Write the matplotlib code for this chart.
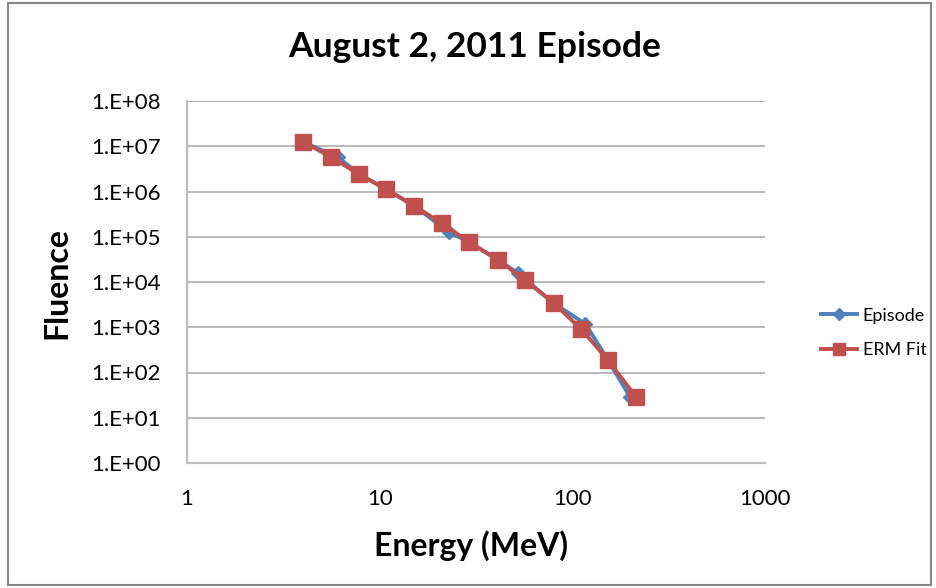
import matplotlib
matplotlib.use("Agg")
import matplotlib.pyplot as plt
from matplotlib.patches import Rectangle
from matplotlib.ticker import FixedLocator, NullLocator

# Data
episode_energy = [4.0, 6.1, 7.8, 10.8, 15.1, 22.9, 29.0, 41.0, 52.2, 80.0, 117.0, 153.0, 199.0]
episode_fluence = [1.24e7, 5.7e6, 2.4e6, 1.13e6, 4.8e5, 1.27e5, 7.7e4, 3.1e4, 1.58e4, 3.4e3, 1.18e3, 189.0, 29.0]

erm_energy = [4.0, 5.6, 7.8, 10.8, 15.1, 21.0, 29.0, 41.0, 57.0, 80.0, 111.0, 153.0, 214.0]
erm_fluence = [1.24e7, 5.8e6, 2.4e6, 1.13e6, 4.8e5, 2.0e5, 7.7e4, 3.1e4, 1.1e4, 3.4e3, 915.0, 189.0, 28.8]

x_ticks = [1, 10, 100, 1000]
x_tick_labels = ["1", "10", "100", "1000"]
y_ticks = [1e0, 1e1, 1e2, 1e3, 1e4, 1e5, 1e6, 1e7, 1e8]
y_tick_labels = ["1.E+00", "1.E+01", "1.E+02", "1.E+03", "1.E+04", "1.E+05", "1.E+06", "1.E+07", "1.E+08"]

title = "August 2, 2011 Episode"
x_label = "Energy (MeV)"
y_label = "Fluence"

plt.rcParams['font.family'] = ['Lato', 'DejaVu Sans']

W, H = 937, 588
fig = plt.figure(figsize=(W / 100, H / 100), dpi=100)
fig.patch.set_facecolor("white")

# outer chart border
fig.patches.append(Rectangle((8 / W, 3 / H), (W - 14) / W, (H - 6) / H,
                             transform=fig.transFigure, fill=False,
                             edgecolor="#868686", linewidth=1.5))

left, right, top, bottom = 187, 765, 101, 463
ax = fig.add_axes([left / W, 1 - bottom / H, (right - left) / W, (bottom - top) / H])

blue = "#4F81BD"
red = "#C0504D"

ax.plot(episode_energy, episode_fluence, color=blue, lw=2.8, marker="D",
        markersize=7.5, label="Episode", zorder=3)
ax.plot(erm_energy, erm_fluence, color=red, lw=2.8, marker="s",
        markersize=11, label="ERM Fit", zorder=4)

ax.set_xscale("log")
ax.set_yscale("log")
ax.set_xlim(1, 1000)
ax.set_ylim(1, 1e8)

ax.xaxis.set_major_locator(FixedLocator(x_ticks))
ax.xaxis.set_minor_locator(NullLocator())
ax.set_xticklabels(x_tick_labels)
ax.yaxis.set_major_locator(FixedLocator(y_ticks))
ax.yaxis.set_minor_locator(NullLocator())
ax.set_yticklabels(y_tick_labels)

ax.tick_params(axis="x", length=0, labelsize=16, pad=19, colors="black")
ax.tick_params(axis="y", length=0, labelsize=16, pad=19, labelcolor="black")

ax.grid(axis="y", color="#A6A6A6", linewidth=1.1)
ax.set_axisbelow(True)
for s in ["top", "right"]:
    ax.spines[s].set_visible(False)
for s in ["left", "bottom"]:
    ax.spines[s].set_color("#BDBDBD")
    ax.spines[s].set_linewidth(1.6)

fig.text(475 / W, 1 - 47 / H, title, ha="center", va="center",
         fontsize=25.5, fontweight="bold")
fig.text(471 / W, 1 - 546 / H, x_label, ha="center", va="center",
         fontsize=23, fontweight="bold")
fig.text(57 / W, 1 - 283 / H, y_label, ha="center", va="center", rotation=90,
         fontsize=23, fontweight="bold")

leg = fig.legend(loc="center left", bbox_to_anchor=(805 / W, 1 - 333 / H),
                 frameon=False, fontsize=13, handlelength=2.0, labelspacing=1.05,
                 handletextpad=0.3, markerscale=0.75)

fig.savefig("out.png", dpi=100, facecolor="white")
